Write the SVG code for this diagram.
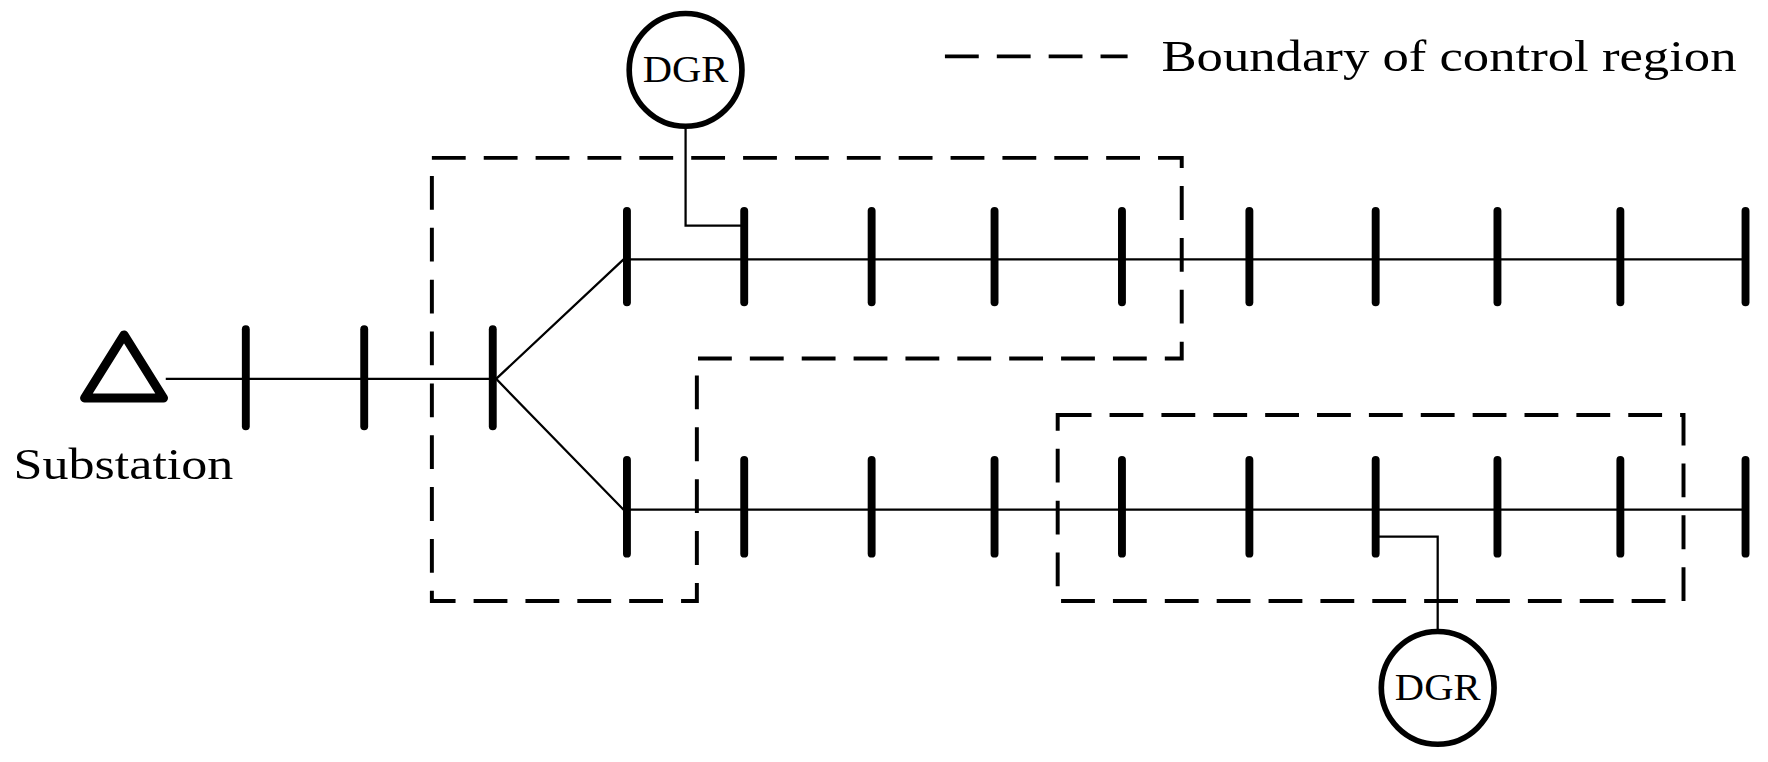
<svg xmlns="http://www.w3.org/2000/svg" width="1768" height="762" viewBox="0 0 1768 762">
<style>
.bar{stroke:#000;stroke-width:7;stroke-linecap:round}
.ln{stroke:#000;stroke-width:2;fill:none}
.dash{stroke:#000;stroke-width:3.5;fill:none;stroke-dasharray:30 16}
.t{font-family:"Liberation Serif",serif;fill:#000}
.dg{fill:#fff;stroke:#000;stroke-width:5}
</style>
<rect width="1768" height="762" fill="#fff"/>
<g transform="scale(1.1276)">
<g id="connectors">
<line class="ln" x1="147" y1="336" x2="437" y2="336"/>
<polyline class="ln" points="553,230 440,336 553,452"/>
<line class="ln" x1="553" y1="230" x2="1548" y2="230"/>
<line class="ln" x1="553" y1="452" x2="1548" y2="452"/>
<polyline class="ln" points="608,112 608,200 660,200"/>
<polyline class="ln" points="1220,476 1275,476 1275,560"/>
</g>
<g id="regions">
<path class="dash" d="M383,140 H1048 V318 H618 V533 H383 Z"/>
<rect class="dash" x="938" y="368" width="555" height="165"/>
</g>
<g id="substation">
<polygon points="110,297 75,353 145,353" fill="none" stroke="#000" stroke-width="8" stroke-linejoin="round"/>
<text class="t" x="12" y="425" font-size="40" textLength="195" lengthAdjust="spacingAndGlyphs">Substation</text>
</g>
<g id="buses">
<line class="bar" x1="218" y1="292" x2="218" y2="378"/>
<line class="bar" x1="323" y1="292" x2="323" y2="378"/>
<line class="bar" x1="437" y1="292" x2="437" y2="378"/>
<g id="upper">
<line class="bar" x1="556" y1="187" x2="556" y2="268"/>
<line class="bar" x1="660" y1="187" x2="660" y2="268"/>
<line class="bar" x1="773" y1="187" x2="773" y2="268"/>
<line class="bar" x1="882" y1="187" x2="882" y2="268"/>
<line class="bar" x1="995" y1="187" x2="995" y2="268"/>
<line class="bar" x1="1108" y1="187" x2="1108" y2="268"/>
<line class="bar" x1="1220" y1="187" x2="1220" y2="268"/>
<line class="bar" x1="1328" y1="187" x2="1328" y2="268"/>
<line class="bar" x1="1437" y1="187" x2="1437" y2="268"/>
<line class="bar" x1="1548" y1="187" x2="1548" y2="268"/>
</g>
<g id="lower">
<line class="bar" x1="556" y1="408" x2="556" y2="491"/>
<line class="bar" x1="660" y1="408" x2="660" y2="491"/>
<line class="bar" x1="773" y1="408" x2="773" y2="491"/>
<line class="bar" x1="882" y1="408" x2="882" y2="491"/>
<line class="bar" x1="995" y1="408" x2="995" y2="491"/>
<line class="bar" x1="1108" y1="408" x2="1108" y2="491"/>
<line class="bar" x1="1220" y1="408" x2="1220" y2="491"/>
<line class="bar" x1="1328" y1="408" x2="1328" y2="491"/>
<line class="bar" x1="1437" y1="408" x2="1437" y2="491"/>
<line class="bar" x1="1548" y1="408" x2="1548" y2="491"/>
</g>
</g>
<g id="dgr1">
<circle class="dg" cx="608" cy="62" r="50"/>
<text class="t" x="570" y="73" font-size="33" textLength="76" lengthAdjust="spacingAndGlyphs">DGR</text>
</g>
<g id="dgr2">
<circle class="dg" cx="1275" cy="610" r="50"/>
<text class="t" x="1237" y="621" font-size="33" textLength="76" lengthAdjust="spacingAndGlyphs">DGR</text>
</g>
<g id="legend">
<line class="dash" x1="838" y1="50" x2="1000" y2="50"/>
<text class="t" x="1030" y="63" font-size="40" textLength="510" lengthAdjust="spacingAndGlyphs">Boundary of control region</text>
</g>
</g>
</svg>
